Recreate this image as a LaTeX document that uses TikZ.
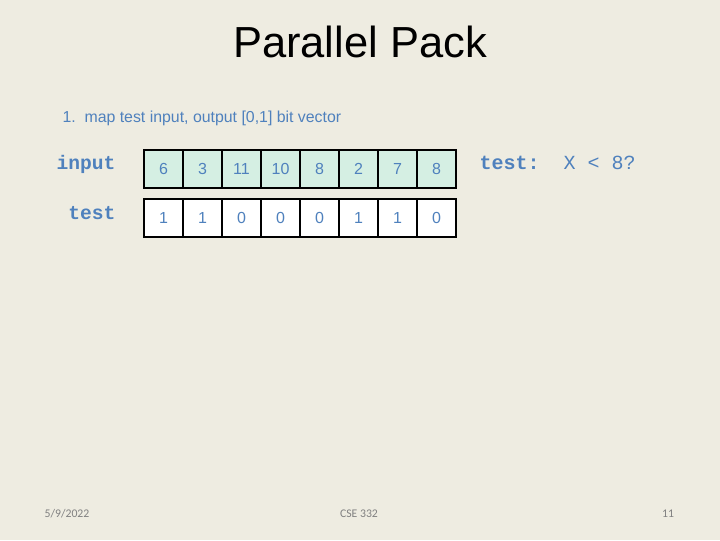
\documentclass[tikz,border=0pt]{standalone}
\usepackage{fontspec}
\setmainfont{Liberation Sans}
\newfontfamily\monofont{Liberation Mono}
\newfontfamily\footfont{Carlito}
\definecolor{slidebg}{RGB}{238,236,225}
\definecolor{txtblue}{RGB}{79,129,189}
\definecolor{cellgreen}{RGB}{213,239,227}
\definecolor{footgray}{RGB}{128,128,128}

\tikzset{every picture/.style={line width=0.75pt}}
\tikzset{
  cellbox/.style={draw=black, line width=1.5pt, minimum width=29.25pt, minimum height=28.5pt, inner sep=0pt, text=txtblue, font=\fontsize{12}{14}\selectfont},
  rowlabel/.style={anchor=base east, inner sep=0.75pt, text=txtblue, font=\monofont\bfseries\fontsize{14.7}{16}\selectfont},
  foottext/.style={inner sep=0.75pt, text=footgray, font=\footfont\fontsize{8.8}{10}\selectfont}
}

\begin{document}
\begin{tikzpicture}[x=0.75pt,y=0.75pt,yscale=-1,xscale=1]
%set diagram: 720 x 540 slide
\fill [slidebg] (0,0) rectangle (720,540);
\useasboundingbox (0,0) rectangle (720,540);

% Title
\draw (360,42) node [inner sep=0.75pt, font=\fontsize{32.6}{38}\selectfont] (title) {Parallel Pack};
% Text Node
\draw (61,122) node [anchor=base west][inner sep=0.75pt, text=txtblue, font=\fontsize{11.9}{14}\selectfont] (step1) {1.\ \ map test input, output [0,1] bit vector};

% Row labels
\draw (117,169) node [rowlabel] (lblinput) {input};
\draw (117,219) node [rowlabel] (lbltest) {test};

% input cells
\foreach \v [count=\i from 0] in {6,3,11,10,8,2,7,8}
  \draw (163.5+39*\i,169) node [cellbox, fill=cellgreen] (in\i) {\v};
% test cells
\foreach \v [count=\i from 0] in {1,1,0,0,0,1,1,0}
  \draw (163.5+39*\i,217.5) node [cellbox, fill=white] (t\i) {\v};

% Text Node
\draw (478,169) node [anchor=base west][inner sep=0.75pt, text=txtblue, font=\monofont\fontsize{15}{16}\selectfont] (cond) {{\bfseries test:}\ \ X < 8?};

% Footer
\draw (67,514) node [foottext] (date) {5/9/2022};
\draw (359,514) node [foottext] (course) {CSE 332};
\draw (668,514) node [foottext] (pageno) {11};

\end{tikzpicture}
\end{document}
